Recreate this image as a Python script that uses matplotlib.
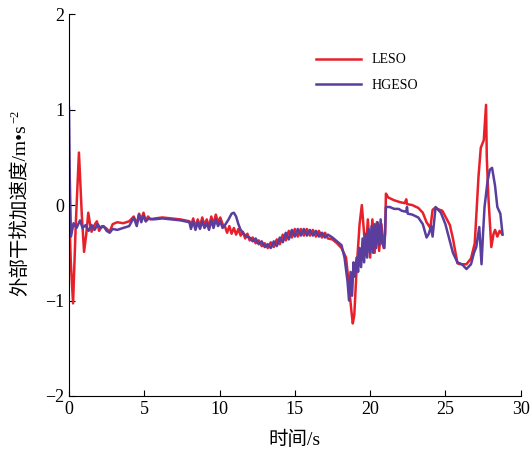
import matplotlib
matplotlib.use("Agg")
import matplotlib.pyplot as plt
import numpy as np

plt.rcParams['font.family'] = ['Liberation Serif', 'Noto Sans CJK SC']

# LESO
t_leso = [0, 0.12, 0.27, 0.45, 0.66, 0.85, 1.0, 1.15, 1.28, 1.4, 1.5, 1.65, 1.85, 2.0,
          2.2, 2.45, 2.7, 2.9, 3.2, 3.6, 4.0, 4.3, 4.5, 4.65, 4.8, 4.95, 5.1, 5.25, 5.4,
          5.7, 6.2, 6.8, 7.4, 8.0,
          8.1, 8.25, 8.4, 8.55, 8.7, 8.85, 9.0, 9.15, 9.3, 9.45, 9.6, 9.75, 9.9, 10.05,
          10.2, 10.35, 10.5, 10.65, 10.8, 10.95, 11.1, 11.25, 11.4, 11.55, 11.7, 11.85,
          12.0, 12.2, 12.4, 12.6, 12.8, 13.0, 13.2, 13.4, 13.6, 13.8, 14.0, 14.2, 14.4,
          14.6, 14.8, 15.0, 15.2, 15.4, 15.6, 15.8, 16.0, 16.2, 16.4, 16.6, 16.8, 17.0,
          17.2, 17.5, 17.8, 18.1, 18.4, 18.6, 18.75, 18.85, 18.95, 19.1, 19.3, 19.45,
          19.6, 19.7, 19.85, 20.0, 20.15, 20.3, 20.45, 20.6, 20.75, 20.9, 21.0, 21.05,
          21.2, 21.6, 22.0, 22.3, 22.4, 22.45, 22.8, 23.2, 23.5, 23.75, 24.0, 24.15,
          24.3, 24.8, 25.3, 25.5, 25.8, 26.0, 26.4, 26.7, 26.95, 27.2, 27.35, 27.55,
          27.7, 27.75, 27.85, 28.05, 28.2, 28.3, 28.45, 28.6, 28.75]
y_leso = [0, -0.6, -1.03, -0.2, 0.55, -0.1, -0.49, -0.3, -0.08, -0.2, -0.28, -0.22, -0.17, -0.27,
          -0.22, -0.24, -0.28, -0.2, -0.18, -0.19, -0.17, -0.12, -0.2, -0.09, -0.15, -0.08, -0.17, -0.12, -0.15,
          -0.14, -0.13, -0.14, -0.15, -0.17,
          -0.22, -0.14, -0.23, -0.15, -0.22, -0.13, -0.21, -0.15, -0.23, -0.12, -0.2, -0.1, -0.18, -0.13,
          -0.2, -0.22, -0.29, -0.22, -0.3, -0.24, -0.31, -0.25, -0.32, -0.28, -0.35, -0.3,
          -0.37, -0.34, -0.4, -0.37, -0.43, -0.4, -0.45, -0.39, -0.44, -0.36, -0.41, -0.31, -0.37,
          -0.27, -0.34, -0.25, -0.33, -0.25, -0.32, -0.25, -0.32, -0.26, -0.33, -0.27, -0.34, -0.29,
          -0.35, -0.36, -0.4, -0.45, -0.55, -0.85, -1.1, -1.24, -1.15, -0.68, -0.2, 0.0,
          -0.3, -0.5, -0.15, -0.55, -0.15, -0.5, -0.18, -0.48, -0.2, -0.45, -0.3, 0.12,
          0.08, 0.05, 0.03, 0.02, 0.06, 0.01, 0.0, -0.03, -0.08, -0.18, -0.24, -0.05,
          -0.03, -0.06, -0.21, -0.35, -0.61, -0.62, -0.62, -0.56, -0.4, 0.3, 0.6, 0.68,
          1.05, 0.5, 0.1, -0.44, -0.3, -0.26, -0.33, -0.27, -0.3]

# HGESO
t_hgeso = [0, 0.05, 0.13, 0.3, 0.5, 0.73, 0.9, 1.1, 1.3, 1.5, 1.7, 1.9, 2.1, 2.3, 2.5, 2.7,
           2.9, 3.2, 3.6, 4.0, 4.3, 4.5, 4.65, 4.8, 4.95, 5.1, 5.3, 5.6, 6.2, 6.8, 7.4, 8.0,
           8.1, 8.25, 8.4, 8.55, 8.7, 8.85, 9.0, 9.15, 9.3, 9.45, 9.6, 9.75, 9.9, 10.05,
           10.2, 10.4, 10.6, 10.8, 10.95, 11.1, 11.25, 11.4, 11.6, 11.8, 12.0,
           12.2, 12.4, 12.6, 12.8, 13.0, 13.2, 13.4, 13.6, 13.8, 14.0, 14.2, 14.4, 14.6,
           14.8, 15.0, 15.2, 15.4, 15.6, 15.8, 16.0, 16.2, 16.4, 16.6, 16.8, 17.0, 17.2,
           17.5, 17.8, 18.1, 18.3, 18.5, 18.6, 18.7, 18.8, 18.9, 19.0, 19.1, 19.2, 19.3,
           19.4, 19.5, 19.6, 19.7, 19.8, 19.9, 20.0, 20.1, 20.2, 20.3, 20.4, 20.5, 20.6,
           20.7, 20.8, 20.95, 21.05, 21.3, 21.6, 21.9, 22.1, 22.4, 22.45, 22.5, 22.8, 23.2,
           23.5, 23.75, 23.9, 24.05, 24.15, 24.35, 24.7, 25.0, 25.3, 25.5, 25.8, 26.1, 26.4,
           26.7, 26.9, 27.05, 27.25, 27.4, 27.5, 27.6, 27.8, 27.95, 28.1, 28.3, 28.45,
           28.65, 28.8]
y_hgeso = [1.02, 0.3, -0.33, -0.19, -0.24, -0.16, -0.24, -0.21, -0.27, -0.21, -0.26, -0.2, -0.24, -0.22, -0.27, -0.29,
           -0.25, -0.26, -0.24, -0.22, -0.13, -0.22, -0.1, -0.18, -0.11, -0.17, -0.14, -0.15, -0.14, -0.15, -0.16, -0.18,
           -0.25, -0.17, -0.26, -0.18, -0.25, -0.17, -0.24, -0.19, -0.26, -0.16, -0.24, -0.15, -0.22, -0.17,
           -0.24, -0.2, -0.15, -0.09, -0.08, -0.12, -0.2, -0.26, -0.3, -0.33, -0.34,
           -0.38, -0.35, -0.41, -0.38, -0.44, -0.41, -0.45, -0.38, -0.43, -0.34, -0.39, -0.29, -0.36,
           -0.26, -0.33, -0.25, -0.32, -0.25, -0.32, -0.26, -0.32, -0.27, -0.33, -0.29, -0.34, -0.31,
           -0.34, -0.38, -0.42, -0.55, -0.8, -1.0, -0.7, -0.95, -0.6, -0.75, -0.55, -0.7, -0.45,
           -0.65, -0.35, -0.6, -0.3, -0.55, -0.25, -0.5, -0.22, -0.5, -0.2, -0.45, -0.18, -0.42,
           -0.15, -0.4, -0.45, -0.02, -0.02, -0.04, -0.04, -0.06, -0.07, -0.02, -0.09, -0.1, -0.13,
           -0.2, -0.34, -0.3, -0.22, -0.33, -0.02, -0.08, -0.2, -0.38, -0.5, -0.6, -0.62, -0.67,
           -0.62, -0.5, -0.44, -0.23, -0.62, -0.3, -0.02, 0.25, 0.37, 0.39, 0.2, -0.02,
           -0.09, -0.31]

fig = plt.figure(figsize=(5.32, 4.54), dpi=100)
ax = fig.add_axes([0.1297, 0.1278, 0.849, 0.841])

ax.plot(t_leso, y_leso, color='#e8202a', lw=1.8, label='LESO')
ax.plot(t_hgeso, y_hgeso, color='#5a3e9e', lw=1.8, label='HGESO')

ax.set_xlim(0, 30)
ax.set_ylim(-2, 2)
ax.set_xticks([0, 5, 10, 15, 20, 25, 30])
ax.set_yticks([-2, -1, 0, 1, 2])
ax.spines['top'].set_visible(False)
ax.spines['right'].set_visible(False)
ax.tick_params(direction='in', length=4, labelsize=13)
ax.set_xlabel('时间/s', fontsize=14, labelpad=9)

# y label: main text plus a separate superscript (mathtext has no CJK glyphs)
ylab = fig.text(20 / 532, 1 - 296 / 454, '外部干扰加速度/m•s', rotation=90,
                ha='center', va='bottom', fontsize=14)
fig.canvas.draw()
bb = ylab.get_window_extent()
fig.text((bb.x0 - 1) / 532, (bb.y1 + 1) / 454, '−2', rotation=90,
         ha='left', va='bottom', fontsize=9)

ax.legend(loc='upper left', bbox_to_anchor=(0.52, 0.93), frameon=False,
          fontsize=10, handlelength=3.2, labelspacing=0.9)

fig.savefig('out.png', dpi=100)
